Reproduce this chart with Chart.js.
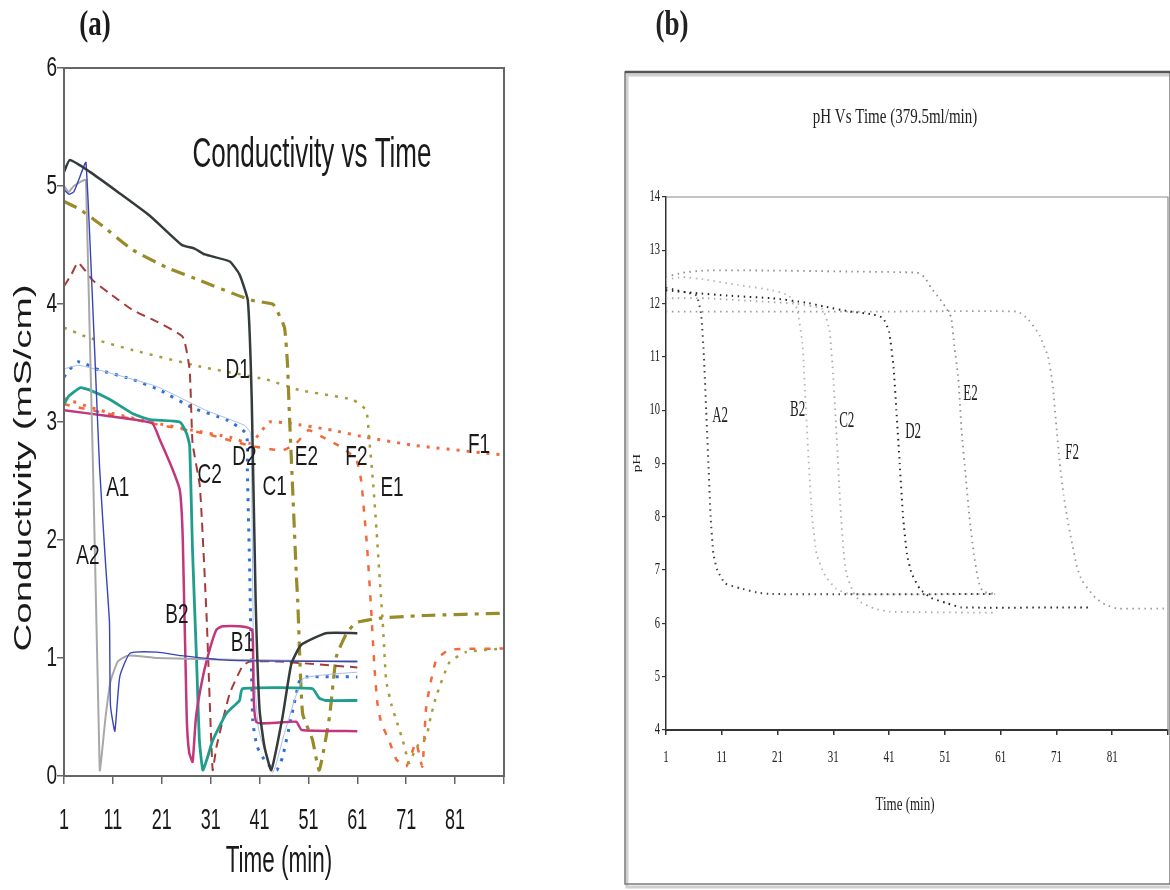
<!DOCTYPE html>
<html>
<head>
<meta charset="utf-8">
<script src="https://cdn.jsdelivr.net/npm/chart.js@4.4.0/dist/chart.umd.min.js"></script>
<style>
  body { margin: 0; background: #fff; width: 1170px; height: 890px; position: relative; overflow: hidden; }
  #boxA { position: absolute; left: 0; top: 0; width: 520px; height: 890px; }
  #boxB { position: absolute; left: 620px; top: 0; width: 550px; height: 890px; }
</style>
</head>
<body>
<div id="boxA"><canvas id="chartA" width="520" height="890"></canvas></div>
<div id="boxB"><canvas id="chartB" width="550" height="890"></canvas></div>
<script>
// time axis ticks (min), both panels
const timeTicks = [1, 11, 21, 31, 41, 51, 61, 71, 81, 91];

// (a) conductivity, mS/cm  -> [time, value]
const condA2 = [[1,5.0],[2,4.95],[3,5.0],[5.5,5.05],[8.3,0.05],[9.5,0.5],[10.5,0.8],[12,0.97],[14,1.02],[20,1.0],[40,0.98],[61,0.97]];
const condA1 = [[1,4.97],[2,4.93],[3,4.95],[4,5.05],[5.5,5.2],[8.3,2.6],[9.5,1.8],[10.3,1.3],[10.5,0.6],[11.4,0.38],[12.4,0.84],[14.5,1.04],[20,1.05],[25,1.02],[35,0.98],[61,0.97]];
const condB2 = [[1,3.1],[10,3.05],[19,2.99],[20.6,2.85],[23.2,2.6],[24.7,2.42],[25.3,2.0],[26.1,0.5],[26.6,0.2],[27.3,0.12],[28,0.5],[29.4,0.84],[31,1.1],[32.2,1.24],[33.4,1.27],[37,1.27],[39.5,1.24],[40.3,0.46],[48.5,0.46],[49.6,0.39],[61,0.38]];
const condB1 = [[1,3.15],[2,3.22],[4.3,3.29],[6.3,3.27],[10.4,3.19],[15.1,3.07],[18.6,3.02],[24.7,3.0],[26.1,2.9],[26.7,2.8],[27.3,1.9],[28.1,1.0],[28.7,0.3],[29.4,0.05],[30.3,0.15],[31.4,0.3],[34.2,0.53],[36.9,0.64],[37.5,0.74],[51.8,0.74],[53.2,0.66],[54.5,0.64],[61,0.64]];
const condC2 = [[1,4.15],[2.5,4.25],[3.9,4.35],[6.9,4.2],[10,4.1],[15,3.95],[20,3.85],[25.3,3.72],[26.7,3.44],[27.3,2.82],[28.8,2.45],[30.2,1.32],[31.4,0.05],[32.2,0.25],[34.9,0.7],[37.5,0.93],[39,0.97],[45,0.97],[61,0.92]];
const condC1 = [[1,5.12],[2.2,5.22],[6.3,5.12],[12,4.95],[18.5,4.75],[25.1,4.5],[27.7,4.47],[29.8,4.42],[34.9,4.36],[36.9,4.25],[38.6,4.03],[39.4,3.19],[40.2,1.49],[41,0.56],[42,0.25],[43.4,0.05],[45.7,0.5],[47.5,0.95],[49.5,1.11],[54.6,1.21],[61,1.21]];
const condD2 = [[1,3.38],[1.6,3.42],[3.9,3.51],[8.3,3.44],[15.1,3.36],[20.6,3.27],[27.3,3.12],[34.2,3.02],[38.3,2.9],[38.5,2.6],[39,1.7],[39.6,0.47],[40.5,0.25],[42.4,0.11],[44.5,0.05],[45.7,0.16],[47.5,0.5],[49.2,0.81],[50.6,0.84],[61,0.84]];
const condD2b = [[1,3.45],[4,3.48],[10,3.42],[20,3.3],[30,3.1],[38,2.97],[39.2,2.9],[39.8,1.0],[40.8,0.4],[43.7,0.03],[46,0.35],[49.8,0.82],[55,0.86],[61,0.88]];
const condE2 = [[1,4.87],[4.3,4.8],[8.3,4.68],[15,4.46],[22,4.31],[28.8,4.2],[35.5,4.09],[39.6,4.03],[43.7,4.0],[44.5,3.95],[46.1,3.8],[46.7,3.5],[47.1,3.07],[47.7,2.5],[48.5,1.72],[48.8,1.49],[49.8,0.53],[51.8,0.31],[53.2,0.05],[55.3,0.5],[56.7,1.01],[58.8,1.21],[60.8,1.3],[66,1.34],[75,1.36],[91,1.38]];
const condE1 = [[1,3.8],[5.7,3.72],[15,3.61],[28.8,3.47],[42.4,3.36],[49.2,3.27],[60,3.19],[62.8,3.1],[63.4,2.87],[64.2,2.5],[64.9,2.1],[65.5,1.72],[66.2,1.3],[66.9,0.81],[68,0.6],[69,0.47],[70.3,0.3],[71.6,0.11],[72.6,0.2],[73.7,0.28],[75.1,0.33],[76,0.5],[77.1,0.67],[79.8,0.96],[83.2,1.05],[91,1.08]];
const condF2 = [[1,3.15],[10,3.07],[20,2.98],[30,2.9],[39,2.8],[45.7,2.76],[48.5,2.82],[51,2.93],[54,2.87],[58,2.78],[60.8,2.68],[61.8,2.5],[62.4,2.23],[63,1.94],[63.8,1.43],[64.5,0.92],[65.1,0.62],[65.9,0.45],[67.5,0.3],[69,0.14],[71,0.08],[73,0.28],[74.3,0.08],[75.1,0.59],[77.1,0.98],[79.8,1.07],[91,1.08]];
const condF1 = [[1,3.2],[8.3,3.1],[18.6,3.0],[27.3,2.93],[35,2.87],[39,2.82],[41,2.9],[43,3.0],[47,2.99],[55.9,2.93],[62.8,2.87],[73,2.8],[91,2.72]];

const condLabelText = ['A2','A1','B2','B1','C2','D2','C1','E2','F2','E1','D1','F1'];
const condLabelX = [5.9, 12, 24.1, 37.5, 30.8, 37.9, 44.1, 50.6, 60.8, 68.1, 36.5, 85.9];
const condLabelY = [1.86, 2.44, 1.36, 1.13, 2.55, 2.7, 2.45, 2.7, 2.7, 2.44, 3.44, 2.8];

// (b) pH -> [time, pH]
const phA2 = [[1,12.3],[3,12.25],[5,12.2],[6.5,12.15],[7.3,11.8],[7.8,11.0],[8.2,10.0],[8.6,9.0],[9.0,8.0],[9.5,7.3],[10.2,7.0],[11.6,6.75],[14.3,6.66],[17.3,6.58],[20,6.55],[60,6.55]];
const phB2 = [[1,12.45],[4,12.5],[8,12.45],[14,12.35],[20,12.25],[23,12.15],[24.5,11.9],[25.5,11.2],[26,10.2],[26.6,9.0],[27.2,8.0],[28,7.3],[29.5,6.9],[31.5,6.65],[34,6.55],[60,6.55]];
const phC2 = [[1,12.1],[8,12.1],[16,12.05],[24,12.0],[29,11.9],[30.3,11.5],[31,10.6],[31.6,9.5],[32.2,8.3],[32.8,7.4],[33.3,6.95],[34.5,6.6],[35.9,6.4],[38.3,6.28],[41,6.22],[60,6.2]];
const phD2 = [[1,12.25],[6,12.2],[12,12.15],[20,12.1],[26,12.02],[29.6,11.94],[34,11.85],[38,11.8],[39.9,11.73],[41,11.47],[41.8,10.8],[42.3,10.0],[42.9,9.0],[43.5,8.0],[44.2,7.3],[45,6.95],[46.5,6.65],[48.5,6.48],[51.3,6.38],[54,6.3],[77,6.3]];
const phE2 = [[1,12.5],[4,12.58],[8,12.62],[20,12.62],[35,12.6],[46,12.58],[47.3,12.5],[48.5,12.3],[50,12.1],[51,11.95],[52.1,11.75],[52.7,11.2],[53.4,10.6],[54,9.6],[54.7,8.8],[55.4,8.0],[56.2,7.3],[57,6.8],[57.8,6.6],[60.3,6.55]];
const phF2 = [[1,11.85],[20,11.85],[40,11.85],[64,11.85],[66,11.7],[68,11.4],[69.5,11.0],[70.3,10.5],[70.9,9.8],[71.6,9.0],[72.3,8.4],[72.9,8.0],[73.8,7.5],[74.7,7.05],[75.6,6.8],[78,6.48],[79.8,6.35],[82,6.28],[91,6.28]];

const phLabelText = ['A2','B2','C2','D2','E2','F2'];
const phLabelX = [10.7, 24.6, 33.4, 45.3, 55.6, 73.8];
const phLabelY = [9.9, 10.0, 9.8, 9.6, 10.3, 9.2];

const pts = arr => arr.map(p => ({x: p[0], y: p[1]}));

// text squeezed like the scanned figure (taller than wide)
function tallText(ctx, text, x, y, font, stretch, rotated, align) {
  ctx.save();
  ctx.translate(x, y);
  if (rotated) {
    ctx.rotate(-Math.PI / 2);
    ctx.scale(stretch, 1);
  } else {
    ctx.scale(1, stretch);
  }
  ctx.font = font;
  ctx.textAlign = align || 'center';
  ctx.textBaseline = 'middle';
  ctx.fillText(text, 0, 0);
  ctx.restore();
}

const textA = {
  id: 'textA',
  afterDraw(chart) {
    const {ctx, chartArea: a, scales: {x, y}} = chart;
    ctx.save();
    ctx.strokeStyle = '#666';
    ctx.lineWidth = 2;
    ctx.strokeRect(a.left, a.top, a.right - a.left, a.bottom - a.top);
    ctx.fillStyle = '#1a1a1a';
    x.ticks.forEach(t => {
      if (t.value === 91) return;
      tallText(ctx, String(t.value), x.getPixelForValue(t.value), 821, '18px "Liberation Sans"', 1.6);
    });
    y.ticks.forEach(t => {
      tallText(ctx, String(t.value), 57, y.getPixelForValue(t.value), '19px "Liberation Sans"', 1.5, false, 'right');
    });
    tallText(ctx, 'Time (min)', 279, 862, '22.5px "Liberation Sans"', 1.65);
    tallText(ctx, 'Conductivity (mS/cm)', 25, 468, '23px "Liberation Sans"', 1.68, true);
    tallText(ctx, 'Conductivity vs Time', 312, 155, '26px "Liberation Sans"', 1.65);
    tallText(ctx, '(a)', 95, 26, 'bold 27px "Liberation Serif"', 1.3);
    condLabelText.forEach((t, i) => {
      tallText(ctx, t, x.getPixelForValue(condLabelX[i]), y.getPixelForValue(condLabelY[i]), '19px "Liberation Sans"', 1.5);
    });
    ctx.restore();
  }
};

const textB = {
  id: 'textB',
  beforeDraw(chart) {
    const {ctx} = chart;
    ctx.save();
    ctx.strokeStyle = '#d0d0d0';
    ctx.lineWidth = 3;
    ctx.strokeRect(7, 75, 545, 812);
    ctx.strokeStyle = '#7a7a7a';
    ctx.lineWidth = 1.5;
    ctx.strokeRect(5, 72, 545, 812);
    ctx.strokeStyle = '#555';
    ctx.lineWidth = 2.5;
    ctx.beginPath();
    ctx.moveTo(5, 72);
    ctx.lineTo(550, 72);
    ctx.stroke();
    ctx.restore();
  },
  afterDraw(chart) {
    const {ctx, chartArea: a, scales: {x, y}} = chart;
    ctx.save();
    ctx.strokeStyle = '#8a8a8a';
    ctx.lineWidth = 1.2;
    ctx.beginPath();
    ctx.moveTo(a.left, a.top);
    ctx.lineTo(a.right, a.top);
    ctx.lineTo(a.right, a.bottom);
    ctx.stroke();
    ctx.fillStyle = '#222';
    x.ticks.forEach(t => {
      if (t.value === 91) return;
      tallText(ctx, String(t.value), x.getPixelForValue(t.value), 757, '11px "Liberation Serif"', 1.6);
    });
    y.ticks.forEach(t => {
      tallText(ctx, String(t.value), 40, y.getPixelForValue(t.value), '10.5px "Liberation Serif"', 1.5, false, 'right');
    });
    tallText(ctx, 'Time (min)', 285, 805, '13px "Liberation Serif"', 1.5);
    tallText(ctx, 'pH', 17, 463, '10px "Liberation Serif"', 1.5, true);
    tallText(ctx, 'pH Vs Time (379.5ml/min)', 275, 117, '15px "Liberation Serif"', 1.45);
    tallText(ctx, '(b)', 52, 26, 'bold 27px "Liberation Serif"', 1.3);
    phLabelText.forEach((t, i) => {
      tallText(ctx, t, x.getPixelForValue(phLabelX[i]), y.getPixelForValue(phLabelY[i]), '13px "Liberation Serif"', 1.8);
    });
    ctx.restore();
  }
};

const line = (data, color, width, dash) => ({
  data: pts(data), borderColor: color, borderWidth: width, borderDash: dash,
  pointRadius: 0, fill: false, tension: 0.15, borderCapStyle: 'butt'
});

const timeAxis = (height, tick, color) => ({
  type: 'linear', min: 1, max: 91,
  afterBuildTicks: s => { s.ticks = timeTicks.map(v => ({value: v})); },
  afterFit: s => { s.height = height; },
  ticks: {display: false},
  grid: {drawOnChartArea: false, tickLength: tick, color: color, lineWidth: 1.5},
  border: {color: color, width: 2}
});

new Chart(document.getElementById('chartA'), {
  type: 'line',
  data: {
    datasets: [
      line(condC1, '#353b3c', 2.5, []),
      line(condA1, '#3a45b5', 1.4, []),
      line(condA2, '#a8a8a8', 2, []),
      line(condB2, '#c2367c', 2.5, []),
      line(condB1, '#1f9e8e', 2.8, []),
      line(condC2, '#a53a3a', 2, [9, 6]),
      line(condD2b, '#a8bde8', 1, []),
      line(condD2, '#2f6fd8', 3, [3, 7]),
      line(condE2, '#9a8b2a', 3.2, [14, 7, 4, 7]),
      line(condE1, '#a99b3b', 2.5, [3, 7]),
      line(condF1, '#f26a3c', 3, [3, 7]),
      line(condF2, '#f26a3c', 2.5, [6, 9])
    ]
  },
  options: {
    responsive: false,
    animation: false,
    layout: {padding: {top: 68, right: 16, bottom: 0, left: 0}},
    plugins: {legend: {display: false}, tooltip: {enabled: false}},
    scales: {
      x: timeAxis(114, 8, '#666'),
      y: {
        min: 0, max: 6,
        ticks: {stepSize: 1, display: false},
        afterFit: s => { s.width = 64; },
        grid: {drawOnChartArea: false, tickLength: 7, color: '#666', lineWidth: 1.5},
        border: {color: '#666', width: 2}
      }
    }
  },
  plugins: [textA]
});

new Chart(document.getElementById('chartB'), {
  type: 'line',
  data: {
    datasets: [
      line(phD2, '#262626', 2, [1.5, 4.5]),
      line(phA2, '#444', 2, [1.5, 4.5]),
      line(phE2, '#8c8c8c', 1.8, [1.5, 4.5]),
      line(phF2, '#999', 1.8, [1.5, 4.5]),
      line(phB2, '#b3b3b3', 1.8, [1.5, 4.5]),
      line(phC2, '#aaa', 1.8, [1.5, 4.5])
    ]
  },
  options: {
    responsive: false,
    animation: false,
    layout: {padding: {top: 197, right: 2, bottom: 0, left: 0}},
    plugins: {legend: {display: false}, tooltip: {enabled: false}},
    scales: {
      x: timeAxis(160, 5, '#333'),
      y: {
        min: 4, max: 14,
        ticks: {stepSize: 1, display: false},
        afterFit: s => { s.width = 46; },
        grid: {drawOnChartArea: false, tickLength: 4, color: '#333', lineWidth: 1.2},
        border: {color: '#333', width: 1.5}
      }
    }
  },
  plugins: [textB]
});
</script>
</body>
</html>
